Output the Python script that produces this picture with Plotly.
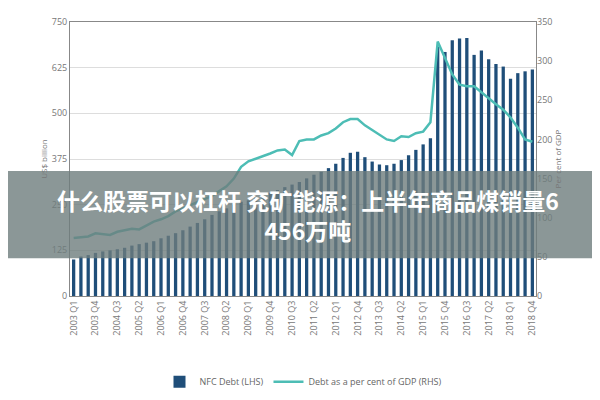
import plotly.graph_objects as go

quarters = [f"{y} Q{q}" for y in range(2003, 2019) for q in range(1, 5)]
nfc_debt = [100, 108, 112, 118, 122, 125, 128, 132, 138, 142, 146, 150,
            158, 165, 172, 180, 190, 200, 210, 222, 232, 240, 250, 258,
            262, 268, 275, 282, 290, 298, 305, 312, 322, 332, 340, 350,
            362, 378, 392, 395, 380, 368, 360, 358, 362, 372, 385, 400,
            415, 432, 682, 668, 700, 705, 706, 660, 672, 648, 635, 628,
            595, 610, 615, 620]
debt_gdp = [74, 75, 76, 80, 79, 78, 82, 84, 86, 85, 90, 95,
            98, 102, 108, 112, 116, 120, 124, 128, 134, 140, 150, 165,
            172, 175, 178, 182, 186, 187, 180, 198, 200, 200, 205, 208,
            214, 222, 226, 226, 218, 212, 205, 200, 198, 204, 203, 208,
            210, 222, 325, 305, 283, 270, 268, 268, 260, 252, 245, 238,
            228, 215, 200, 197]
tick_labels = quarters[::3]

fig = go.Figure()
fig.add_trace(go.Bar(x=quarters, y=nfc_debt, name="NFC Debt (LHS)",
                     marker=dict(color="#1f4e79", line=dict(width=0)), width=0.45))
fig.add_trace(go.Scatter(x=quarters, y=debt_gdp, name="Debt as a per cent of GDP (RHS)",
                         yaxis="y2", mode="lines", line=dict(color="#4dbdb5", width=2.5)))

fig.update_layout(
    width=600, height=400, margin=dict(l=62, r=72, t=14, b=103),
    paper_bgcolor="white", plot_bgcolor="white",
    font=dict(family="Open Sans", size=9, color="#777"),
    bargap=0.5, showlegend=True,
    legend=dict(orientation="h", x=0.5, xanchor="center", y=-0.26, yanchor="top",
                font=dict(size=9, color="#666")),
    xaxis=dict(tickmode="array", tickvals=tick_labels, ticktext=tick_labels,
               tickangle=-90, showline=True, linecolor="#888", mirror=True,
               tickfont=dict(size=9), automargin=False),
    yaxis=dict(range=[0, 750], tickvals=[0, 125, 250, 375, 500, 625, 750],
               gridcolor="#ddd", showline=True, linecolor="#888", mirror=True,
               automargin=False,
               title=dict(text="US$ billion", font=dict(size=8), standoff=2)),
    yaxis2=dict(range=[0, 350], tickvals=[0, 50, 100, 150, 200, 250, 300, 350],
                overlaying="y", side="right", showgrid=False, automargin=False,
                title=dict(text="Per cent of GDP", font=dict(size=8), standoff=2)),
)

fig.add_shape(type="rect", xref="paper", yref="paper", x0=-0.2, x1=1.2,
              y0=(297 - 258) / 283, y1=(297 - 168) / 283,
              fillcolor="rgba(110,125,125,0.8)", line=dict(width=0), layer="above")
fig.add_annotation(xref="paper", yref="paper", x=(300 - 62) / 466, y=(297 - 213) / 283,
                   xanchor="center", yanchor="middle", align="center", showarrow=False,
                   text="<b>什么股票可以杠杆 兖矿能源：上半年商品煤销量6<br>456万吨</b>",
                   font=dict(family="Noto Sans CJK SC", size=23, color="white"))

fig.write_html("out.html")
